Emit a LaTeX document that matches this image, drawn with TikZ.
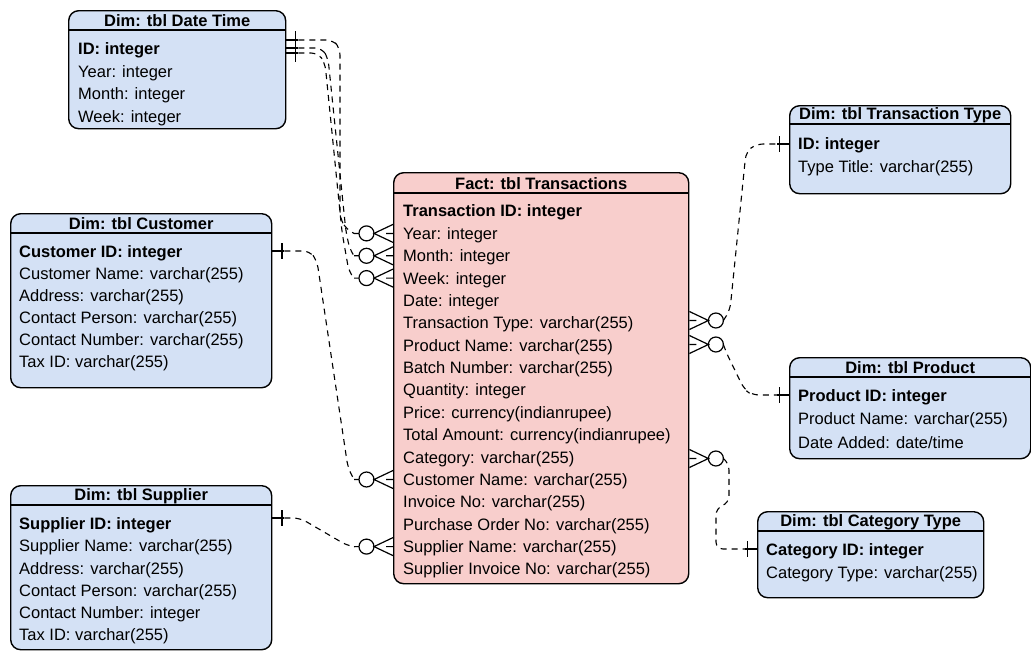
\documentclass[tikz,border=0pt]{standalone}
\usepackage{fontspec}
\setmainfont{Liberation Sans}
\definecolor{dimblue}{HTML}{D4E1F5}
\definecolor{factpink}{HTML}{F8CECC}
\begin{document}
\begin{tikzpicture}[x=1pt,y=-1pt,
  tbl/.style={draw, line width=1.4pt, rounded corners=10pt, anchor=north west, inner sep=0pt},
  hdr/.style={font=\fontsize{16.5}{19}\selectfont\bfseries, inner sep=0pt, yshift=-1pt},
  row/.style={font=\fontsize{16.5}{19}\selectfont, anchor=west, inner sep=0pt, yshift=-1.7pt},
  rel/.style={line width=1.1pt, dash pattern=on 6pt off 5pt, rounded corners=7pt},
  mk/.style={line width=1.2pt, solid},
  manyleft/.pic={\draw[mk] (0,-9) -- (-19,0) -- (0,9) (0,0) -- (-7,0);
                 \draw[mk] (-26.5,0) circle[radius=7.5pt] (-34,0) -- (-39,0);},
  manyright/.pic={\draw[mk] (0,-9) -- (19,0) -- (0,9) (0,0) -- (7,0);
                 \draw[mk] (26.5,0) circle[radius=7.5pt];},
  oneleft/.pic={\draw[mk] (0,0) -- (-12,0) (-9.5,-8) -- (-9.5,8);},
  oneright/.pic={\draw[mk] (0,0) -- (12,0) (9.5,-8) -- (9.5,8);}
]
\useasboundingbox (0,0) rectangle (1031,651);

% ---------- Dim: tbl Date Time ----------
\node[tbl, fill=dimblue, minimum width=217pt, minimum height=118pt] (dt) at (68,10) {};
\draw[line width=1.4pt] ([yshift=-20pt]dt.north west) -- ([yshift=-20pt]dt.north east);
\node[hdr] at ([yshift=-10pt]dt.north) {Dim: tbl Date Time};
\node[row] (dt1) at (78,49) {\textbf{ID: integer}};
\node[row] (dt2) at (78,71.5) {Year: integer};
\node[row] (dt3) at (78,94) {Month: integer};
\node[row] (dt4) at (78,116.5) {Week: integer};

% ---------- Dim: tbl Customer ----------
\node[tbl, fill=dimblue, minimum width=261pt, minimum height=174pt] (cu) at (10,213) {};
\draw[line width=1.4pt] ([yshift=-20pt]cu.north west) -- ([yshift=-20pt]cu.north east);
\node[hdr] at ([yshift=-10pt]cu.north) {Dim: tbl Customer};
\node[row] (cu1) at (19,252) {\textbf{Customer ID: integer}};
\node[row] (cu2) at (19,274) {Customer Name: varchar(255)};
\node[row] (cu3) at (19,296) {Address: varchar(255)};
\node[row] (cu4) at (19,318) {Contact Person: varchar(255)};
\node[row] (cu5) at (19,340) {Contact Number: varchar(255)};
\node[row] (cu6) at (19,362) {Tax ID: varchar(255)};

% ---------- Dim: tbl Supplier ----------
\node[tbl, fill=dimblue, minimum width=261pt, minimum height=164pt] (su) at (10,485) {};
\draw[line width=1.4pt] ([yshift=-20pt]su.north west) -- ([yshift=-20pt]su.north east);
\node[hdr] at ([yshift=-10pt]su.north) {Dim: tbl Supplier};
\node[row] (su1) at (19,524) {\textbf{Supplier ID: integer}};
\node[row] (su2) at (19,546) {Supplier Name: varchar(255)};
\node[row] (su3) at (19,568.5) {Address: varchar(255)};
\node[row] (su4) at (19,591) {Contact Person: varchar(255)};
\node[row] (su5) at (19,613) {Contact Number: integer};
\node[row] (su6) at (19,635) {Tax ID: varchar(255)};

% ---------- Fact: tbl Transactions ----------
\node[tbl, fill=factpink, minimum width=295pt, minimum height=411pt] (fa) at (393,172) {};
\draw[line width=1.4pt] ([yshift=-21pt]fa.north west) -- ([yshift=-21pt]fa.north east);
\node[hdr] at ([yshift=-10.5pt]fa.north) {Fact: tbl Transactions};
\foreach \i/\t in {1/{\textbf{Transaction ID: integer}},2/{Year: integer},3/{Month: integer},
  4/{Week: integer},5/{Date: integer},6/{Transaction Type: varchar(255)},
  7/{Product Name: varchar(255)},8/{Batch Number: varchar(255)},9/{Quantity: integer},
  10/{Price: currency(indianrupee)},11/{Total Amount: currency(indianrupee)},
  12/{Category: varchar(255)},13/{Customer Name: varchar(255)},14/{Invoice No: varchar(255)},
  15/{Purchase Order No: varchar(255)},16/{Supplier Name: varchar(255)},
  17/{Supplier Invoice No: varchar(255)}}
  \node[row] (f\i) at (403,{211+(\i-1)*22.375}) {\t};

% ---------- Dim: tbl Transaction Type ----------
\node[tbl, fill=dimblue, minimum width=221pt, minimum height=88pt] (tt) at (789,105) {};
\draw[line width=1.4pt] ([yshift=-19pt]tt.north west) -- ([yshift=-19pt]tt.north east);
\node[hdr] at ([yshift=-9.5pt]tt.north) {Dim: tbl Transaction Type};
\node[row] (tt1) at (798,144) {\textbf{ID: integer}};
\node[row] (tt2) at (798,167) {Type Title: varchar(255)};

% ---------- Dim: tbl Product ----------
\node[tbl, fill=dimblue, minimum width=241pt, minimum height=101pt] (pd) at (789,357) {};
\draw[line width=1.4pt] ([yshift=-20pt]pd.north west) -- ([yshift=-20pt]pd.north east);
\node[hdr] at ([yshift=-10pt]pd.north) {Dim: tbl Product};
\node[row] (pd1) at (798,396) {\textbf{Product ID: integer}};
\node[row] (pd2) at (798,419) {Product Name: varchar(255)};
\node[row] (pd3) at (798,441) {Date Added: date/time};

% ---------- Dim: tbl Category Type ----------
\node[tbl, fill=dimblue, minimum width=226pt, minimum height=86pt] (ct) at (757,511) {};
\draw[line width=1.4pt] ([yshift=-20pt]ct.north west) -- ([yshift=-20pt]ct.north east);
\node[hdr] at ([yshift=-10pt]ct.north) {Dim: tbl Category Type};
\node[row] (ct1) at (766,550) {\textbf{Category ID: integer}};
\node[row] (ct2) at (766,573) {Category Type: varchar(255)};

% ---------- markers ----------
\coordinate (mY) at (fa.west |- 0,233.4);
\coordinate (mM) at (fa.west |- 0,255.8);
\coordinate (mW) at (fa.west |- 0,278.1);
\coordinate (mC) at (fa.west |- 0,479.5);
\coordinate (mS) at (fa.west |- 0,546.6);
\coordinate (mT) at (fa.east |- 0,320.5);
\coordinate (mP) at (fa.east |- 0,344.5);
\coordinate (mK) at (fa.east |- 0,458.5);
\foreach \m in {mY,mM,mW,mC,mS} \pic at (\m) {manyleft};
\foreach \m in {mT,mP,mK} \pic at (\m) {manyright};

\coordinate (dA) at ([yshift=-30pt]dt.north east);
\coordinate (dB) at ([yshift=-38pt]dt.north east);
\coordinate (dC) at ([yshift=-43pt]dt.north east);
\draw[mk] ([xshift=9pt,yshift=-21pt]dt.north east) -- ([xshift=9pt,yshift=-52pt]dt.north east);
\draw[mk] (dA) -- ++(12,0) (dB) -- ++(12,0) (dC) -- ++(12,0);

\coordinate (cuE) at (cu.east |- 0,251);
\coordinate (suE) at (su.east |- 0,518);
\coordinate (ttE) at (tt.west |- 0,144);
\coordinate (pdE) at (pd.west |- 0,395);
\coordinate (ctE) at (ct.west |- 0,549);
\pic at (cuE) {oneright};
\pic at (suE) {oneright};
\pic at (ttE) {oneleft};
\pic at (pdE) {oneleft};
\pic at (ctE) {oneleft};

% ---------- relationships ----------
\draw[rel] ([xshift=12pt]dA) -- (333,40) -- (340,48) -- (340,218) -- (346,229) -- ([xshift=-39pt]mY);
\draw[rel] ([xshift=12pt]dB) -- (322,48) -- (328,58) -- (346,232) -- (350,250) -- ([xshift=-39pt]mM);
\draw[rel] ([xshift=12pt]dC) -- (318,53) -- (325,63) -- (342,232) -- (349,272) -- ([xshift=-39pt]mW);
\draw[rel] ([xshift=12pt]cuE) -- (310,251) -- (317,261) -- (348,468) -- ([xshift=-39pt]mC);
\draw[rel] ([xshift=12pt]suE) -- (300,518) -- (348,546) -- ([xshift=-39pt]mS);
\draw[rel] ([xshift=34pt]mT) -- (730,310) -- (746,152) -- (756,144) -- ([xshift=-12pt]ttE);
\draw[rel] ([xshift=34pt]mP) -- (726,352) -- (744,389) -- (752,395) -- ([xshift=-12pt]pdE);
\draw[rel] ([xshift=34pt]mK) -- (729,463) -- (729,503) -- (716,508) -- (716,549) -- ([xshift=-12pt]ctE);
\end{tikzpicture}
\end{document}
